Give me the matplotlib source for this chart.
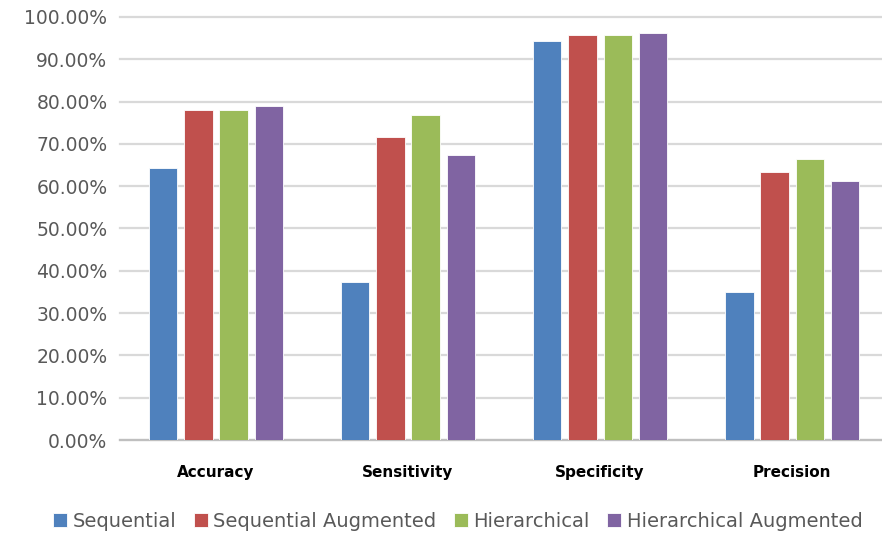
import matplotlib
matplotlib.use("Agg")
import matplotlib.pyplot as plt
import matplotlib.font_manager as fm
import numpy as np
from matplotlib.ticker import PercentFormatter

# ---- data -----------------------------------------------------------------
categories = ["Accuracy", "Sensitivity", "Specificity", "Precision"]
series_names = ["Sequential", "Sequential Augmented", "Hierarchical", "Hierarchical Augmented"]
sequential = [64.2, 37.4, 94.3, 35.1]
sequential_aug = [77.9, 71.5, 95.7, 63.3]
hierarchical = [77.9, 76.7, 95.7, 66.4]
hierarchical_aug = [79.0, 67.3, 96.1, 61.3]
y_ticks = [0, 10, 20, 30, 40, 50, 60, 70, 80, 90, 100]

COLORS = ["#4F81BD", "#C0504D", "#9BBB59", "#8064A2"]
GRID = "#D9D9D9"
TEXT = "#595959"

names = {f.name for f in fm.fontManager.ttflist}
FONT = "Liberation Sans Narrow" if "Liberation Sans Narrow" in names else "DejaVu Sans"
plt.rcParams["font.family"] = [FONT, "DejaVu Sans"]

fig = plt.figure(figsize=(8.82, 5.44), dpi=100)
ax = fig.add_axes([0.136, 0.191, 0.871, 0.778])

x = np.arange(len(categories))
width = 0.147
step = 0.183
all_series = [sequential, sequential_aug, hierarchical, hierarchical_aug]
for i, (vals, name, c) in enumerate(zip(all_series, series_names, COLORS)):
    ax.bar(x + (i - 1.5) * step, vals, width=width, color=c, label=name,
           edgecolor="white", linewidth=0.6, zorder=3)

ax.set_xlim(-0.5, len(categories) - 0.5)
ax.set_ylim(0, 100)
ax.set_yticks(y_ticks)
ax.yaxis.set_major_formatter(PercentFormatter(decimals=2))
ax.yaxis.grid(True, color=GRID, linewidth=1.6, zorder=0)
for gl in ax.yaxis.get_gridlines():
    gl.set_clip_on(False)
ax.set_axisbelow(True)

for s in ["top", "right", "left"]:
    ax.spines[s].set_visible(False)
ax.spines["bottom"].set_color("#BFBFBF")
ax.spines["bottom"].set_linewidth(1.6)

ax.tick_params(axis="y", length=0, labelsize=13.5, labelcolor=TEXT, pad=9)
ax.tick_params(axis="x", length=0, pad=18)
ax.set_xticks(x)
ax.set_xticklabels(categories, fontsize=11, fontweight="bold", color="black")

ax.legend(loc="lower center", bbox_to_anchor=(0.44, -0.255), ncol=4, frameon=False,
          fontsize=14, labelcolor=TEXT, handlelength=0.7, handleheight=0.7,
          handletextpad=0.3, columnspacing=0.9)

fig.savefig("out.png", dpi=100, facecolor="white")
